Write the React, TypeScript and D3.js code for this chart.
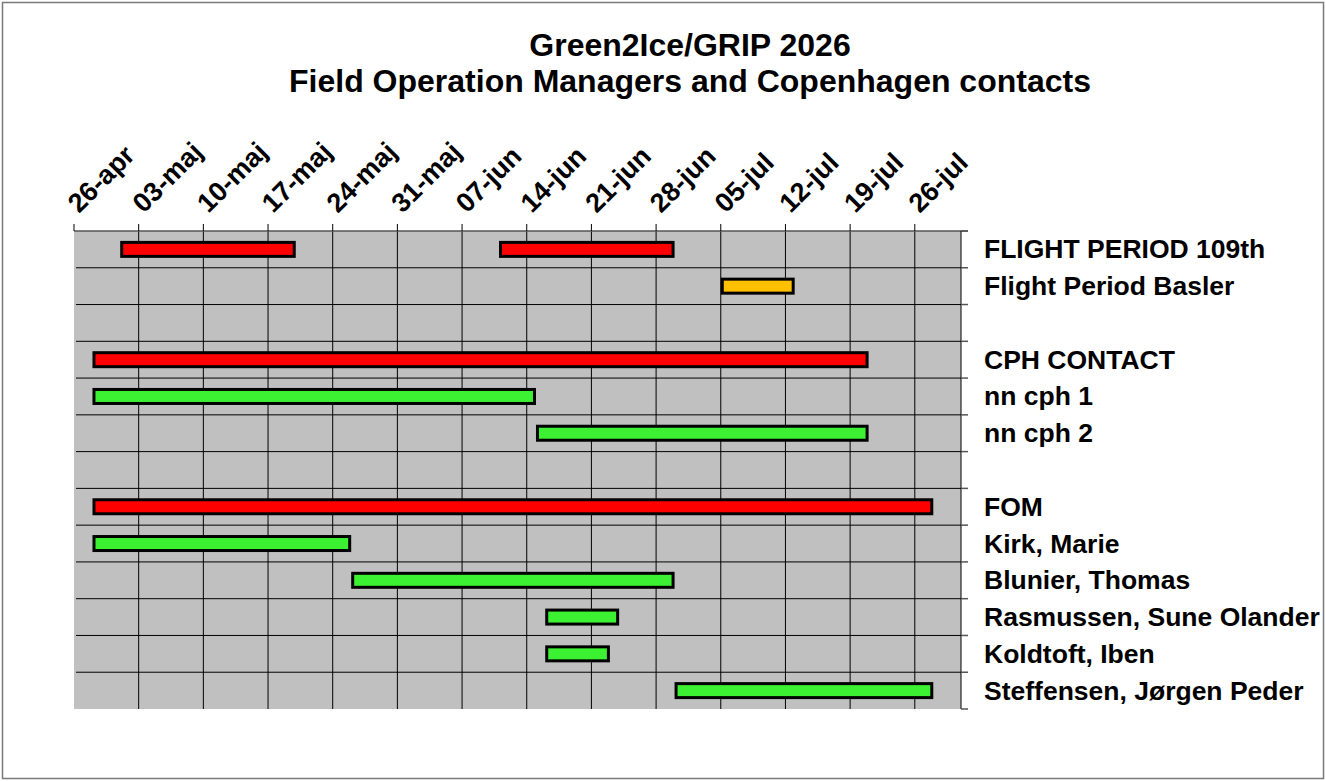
import React from 'react';
import * as d3 from 'd3';

// Green2Ice/GRIP 2026 - bemanding
const titleLines = ['Green2Ice/GRIP 2026', 'Field Operation Managers and Copenhagen contacts'];

const rowLabels = [
  'FLIGHT PERIOD 109th',
  'Flight Period Basler',
  '',
  'CPH CONTACT',
  'nn cph 1',
  'nn cph 2',
  '',
  'FOM',
  'Kirk, Marie',
  'Blunier, Thomas',
  'Rasmussen, Sune Olander',
  'Koldtoft, Iben',
  'Steffensen, Jørgen Peder',
];

// perioder: række, start, slut, type
const periodRows = [0, 0, 1, 3, 4, 5, 7, 8, 9, 10, 11, 12];
const periodStart = ['2026-05-01', '2026-06-11', '2026-07-05', '2026-04-28', '2026-04-28', '2026-06-15', '2026-04-28', '2026-04-28', '2026-05-26', '2026-06-16', '2026-06-16', '2026-06-30'];
const periodEnd = ['2026-05-20', '2026-06-30', '2026-07-13', '2026-07-21', '2026-06-15', '2026-07-21', '2026-07-28', '2026-05-26', '2026-06-30', '2026-06-24', '2026-06-23', '2026-07-28'];
const periodType = ['flight', 'flight', 'basler', 'lead', 'person', 'person', 'lead', 'person', 'person', 'person', 'person', 'person'];

const tickDates = ['2026-04-26', '2026-05-03', '2026-05-10', '2026-05-17', '2026-05-24', '2026-05-31', '2026-06-07', '2026-06-14', '2026-06-21', '2026-06-28', '2026-07-05', '2026-07-12', '2026-07-19', '2026-07-26'];
const tickLabels = ['26-apr', '03-maj', '10-maj', '17-maj', '24-maj', '31-maj', '07-jun', '14-jun', '21-jun', '28-jun', '05-jul', '12-jul', '19-jul', '26-jul'];
const domainDates = ['2026-04-26', '2026-07-31'];

const colors: Record<string, string> = {
  flight: '#ff0000',
  lead: '#ff0000',
  basler: '#ffc000',
  person: '#3cf032',
};

const parse = d3.timeParse('%Y-%m-%d');
const font = '"Liberation Sans", Arial, sans-serif';

export default function App() {
  const W = 1326;
  const H = 781;
  const left = 74;
  const right = 961;
  const top = 231;
  const bottom = 709;

  const x = d3.scaleTime()
    .domain(domainDates.map(d => parse(d) as Date))
    .range([left, right]);

  const y = d3.scaleBand<number>()
    .domain(d3.range(rowLabels.length))
    .range([top, bottom]);

  const barH = 14;
  const rowLines = d3.range(rowLabels.length + 1).map(i => top + i * y.step());

  return (
    <div style={{ position: 'absolute', left: 0, top: 0 }}>
      <svg width={W} height={H} style={{ display: 'block', background: '#fff' }}>
        <rect x={2.5} y={2.5} width={W - 5} height={H - 5} fill="#fff" stroke="#7a7a7a" strokeWidth={1.5} />

        {titleLines.map((t, i) => (
          <text key={t} x={690} y={56 + i * 36} textAnchor="middle" fontFamily={font} fontWeight="bold" fontSize={32}>
            {t}
          </text>
        ))}

        <rect x={left} y={top} width={right - left} height={bottom - top} fill="#c0c0c0" />

        {/* vandrette linjer */}
        {rowLines.slice(1, -1).map((ly, i) => (
          <line key={'h' + i} x1={left + 2} x2={right} y1={ly} y2={ly} stroke="#000" strokeWidth={1} />
        ))}

        {/* lodrette gitterlinjer */}
        {tickDates.slice(1).map(d => (
          <line key={'v' + d} x1={x(parse(d) as Date)} x2={x(parse(d) as Date)} y1={top} y2={bottom} stroke="#000" strokeWidth={1} />
        ))}

        {/* top akse */}
        <line x1={left} x2={right + 7} y1={top} y2={top} stroke="#555" strokeWidth={1.5} />
        {tickDates.map(d => (
          <line key={'t' + d} x1={x(parse(d) as Date)} x2={x(parse(d) as Date)} y1={top - 7} y2={top} stroke="#000" strokeWidth={1} />
        ))}
        {tickDates.map((d, i) => (
          <text
            key={'l' + d}
            transform={`translate(${x(parse(d) as Date) + 5},${top - 17}) rotate(-45)`}
            fontFamily={font}
            fontWeight="bold"
            fontSize={27}
          >
            {tickLabels[i]}
          </text>
        ))}

        {/* højre akse */}
        <line x1={right} x2={right} y1={top} y2={bottom} stroke="#000" strokeWidth={1} />
        {rowLines.map((ly, i) => (
          <line key={'r' + i} x1={right} x2={right + 7} y1={ly} y2={ly} stroke="#555" strokeWidth={1.5} />
        ))}

        {/* perioder */}
        {periodRows.map((r, i) => {
          const x0 = x(parse(periodStart[i]) as Date);
          const x1 = x(parse(periodEnd[i]) as Date);
          const cy = (y(r) as number) + y.bandwidth() / 2;
          return (
            <rect
              key={'b' + i}
              x={x0 + 1.5}
              y={cy - barH / 2}
              width={x1 - x0 - 3}
              height={barH}
              fill={colors[periodType[i]]}
              stroke="#000"
              strokeWidth={3}
            />
          );
        })}

        {rowLabels.map((l, i) => (
          <text
            key={'rl' + i}
            x={984}
            y={(y(i) as number) + y.bandwidth() / 2 + 9}
            fontFamily={font}
            fontWeight="bold"
            fontSize={26.5}
          >
            {l}
          </text>
        ))}
      </svg>
    </div>
  );
}
